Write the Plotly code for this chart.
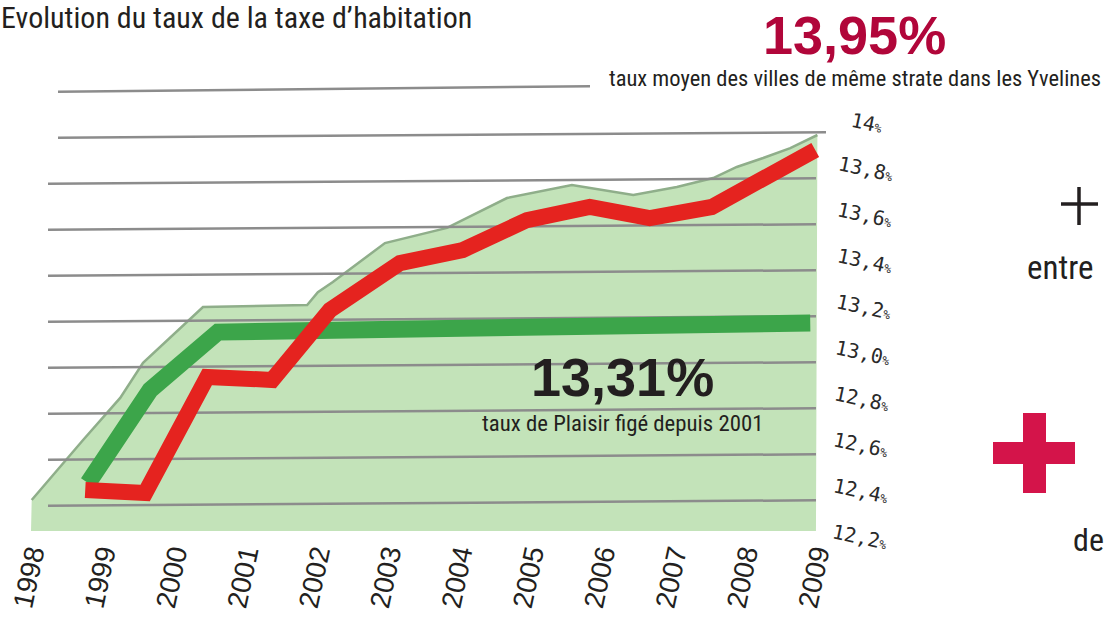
import plotly.graph_objects as go

W, H = 1105, 623
MB = 92  # bottom margin (room for rotated year labels)

# ---------------- data (axis units: years / percent) ----------------
years = [1998, 1999, 2000, 2001, 2002, 2003, 2004, 2005, 2006, 2007, 2008, 2009]
year_labels = [str(y) for y in years]

# light-green envelope (pseudo 3D backdrop)
area_x = [1998.00, 1998.01, 1998.73, 1999.25, 1999.57, 2000.41, 2001.87, 2002.02,
          2002.23, 2002.96, 2003.83, 2004.67, 2005.58, 2006.44, 2007.05, 2007.56,
          2007.89, 2008.26, 2008.64, 2009.02, 2009.00]
area_y = [12.274, 12.413, 12.674, 12.857, 13.009, 13.252, 13.261, 13.317,
          13.361, 13.530, 13.596, 13.726, 13.783, 13.739, 13.774, 13.813,
          13.861, 13.900, 13.943, 14.000, 12.274]

# average rate of towns of same size (red)
red_x = [1998.76, 1999.60, 2000.47, 2001.38, 2002.19, 2003.17, 2004.05,
         2004.95, 2005.83, 2006.67, 2007.54, 2008.24, 2008.99]
red_y = [12.457, 12.443, 12.948, 12.935, 13.239, 13.443, 13.500,
         13.630, 13.687, 13.639, 13.687, 13.804, 13.935]

# Plaisir rate (green)
green_x = [1998.80, 1999.67, 2000.62, 2008.92]
green_y = [12.487, 12.891, 13.143, 13.183]

# y ticks
tick_vals = [14.0, 13.8, 13.6, 13.4, 13.2, 13.0, 12.8, 12.6, 12.4, 12.2]
tick_text = ["14", "13,8", "13,6", "13,4", "13,2", "13,0", "12,8", "12,6", "12,4", "12,2"]
grid_vals = [14.2, 14.0, 13.8, 13.6, 13.4, 13.2, 13.0, 12.8, 12.6, 12.4]

# ---------------- scales ----------------
PX_PER_YEAR = 71.36
X0_PX = 31.0
PX_PER_UNIT = 230.0
Y14_PX = 135.0
plot_h = H - MB
x_range = [1998 - X0_PX / PX_PER_YEAR, 1998 + (W - X0_PX) / PX_PER_YEAR]
y_top = 14 + Y14_PX / PX_PER_UNIT
y_range = [y_top - plot_h / PX_PER_UNIT, y_top]


def px_x(p):
    return 1998 + (p - X0_PX) / PX_PER_YEAR


def paper_x(p):
    return p / W


def paper_y(p):
    return (plot_h - p) / plot_h


def val_to_paper_y(v):
    return (v - y_range[0]) / (y_range[1] - y_range[0])


fig = go.Figure()

# envelope fill
fig.add_trace(go.Scatter(x=area_x, y=area_y, mode="lines", fill="toself",
                         fillcolor="#c3e3b9", line=dict(width=0),
                         hoverinfo="skip", showlegend=False))
# envelope top outline
fig.add_trace(go.Scatter(x=area_x[1:-1], y=area_y[1:-1], mode="lines",
                         line=dict(color="#8fae8a", width=2.5),
                         hoverinfo="skip", showlegend=False))

# grid lines (slightly tilted like the picture)
gx, gy = [], []
for v in grid_vals:
    if v > 14.1:
        x0, x1 = px_x(58), px_x(590)
    elif v > 13.9:
        x0, x1 = px_x(58), px_x(826)
    else:
        x0, x1 = px_x(48), px_x(816)
    gx += [x0, x1, None]
    gy += [v - 0.012, v + 0.012, None]
fig.add_trace(go.Scatter(x=gx, y=gy, mode="lines",
                         line=dict(color="#8c8c8c", width=2.5),
                         hoverinfo="skip", showlegend=False))

fig.add_trace(go.Scatter(x=green_x, y=green_y, mode="lines",
                         line=dict(color="#3ca54a", width=17),
                         hoverinfo="skip", showlegend=False))
fig.add_trace(go.Scatter(x=red_x, y=red_y, mode="lines",
                         line=dict(color="#e5231f", width=16),
                         hoverinfo="skip", showlegend=False))

ann = []
# right-hand y tick labels (tilted, hand-drawn look)
for i, (v, t) in enumerate(zip(tick_vals, tick_text)):
    cx = 867 - i * 0.8
    ann.append(dict(x=paper_x(cx), y=val_to_paper_y(v + 12 / PX_PER_UNIT),
                    xref="paper", yref="paper", xanchor="center", yanchor="middle",
                    text=t + "<span style='font-size:12px'>%</span>",
                    showarrow=False, textangle=12,
                    font=dict(family="DejaVu Sans Mono", size=20, color="#2a2a2a")))

narrow = "Liberation Sans Narrow, Roboto Condensed, DejaVu Sans Condensed, sans-serif"
dark = "#231f20"
ann += [
    dict(x=paper_x(-1), y=paper_y(17), xref="paper", yref="paper", xanchor="left",
         yanchor="middle", showarrow=False,
         text="Evolution du taux de la taxe d’habitation",
         font=dict(family=narrow, size=30, color=dark)),
    dict(x=paper_x(854), y=paper_y(35), xref="paper", yref="paper", xanchor="center",
         yanchor="middle", showarrow=False, text="<b>13,95%</b>",
         font=dict(family="Liberation Sans", size=54, color="#b1063a")),
    dict(x=paper_x(1103), y=paper_y(78), xref="paper", yref="paper", xanchor="right",
         yanchor="middle", showarrow=False,
         text="taux moyen des villes de même strate dans les Yvelines",
         font=dict(family=narrow, size=22.5, color=dark)),
    dict(x=paper_x(622), y=paper_y(377), xref="paper", yref="paper", xanchor="center",
         yanchor="middle", showarrow=False, text="<b>13,31%</b>",
         font=dict(family="Liberation Sans", size=54, color=dark)),
    dict(x=paper_x(622), y=paper_y(423), xref="paper", yref="paper", xanchor="center",
         yanchor="middle", showarrow=False, text="taux de Plaisir figé depuis 2001",
         font=dict(family=narrow, size=22.8, color=dark)),
    dict(x=paper_x(1025), y=paper_y(268), xref="paper", yref="paper", xanchor="left",
         yanchor="middle", showarrow=False, text="entre",
         font=dict(family=narrow, size=33, color=dark)),
    dict(x=paper_x(1071), y=paper_y(540), xref="paper", yref="paper", xanchor="left",
         yanchor="middle", showarrow=False, text="de",
         font=dict(family=narrow, size=32, color=dark)),
]

shapes = [
    # thin black plus
    dict(type="line", xref="paper", yref="paper", x0=paper_x(1079), x1=paper_x(1079),
         y0=paper_y(187), y1=paper_y(225), line=dict(color=dark, width=3.5)),
    dict(type="line", xref="paper", yref="paper", x0=paper_x(1061), x1=paper_x(1098),
         y0=paper_y(204), y1=paper_y(204), line=dict(color=dark, width=3.5)),
    # red cross
    dict(type="rect", xref="paper", yref="paper", x0=paper_x(1023), x1=paper_x(1046),
         y0=paper_y(413), y1=paper_y(493), fillcolor="#d4144a", line=dict(width=0)),
    dict(type="rect", xref="paper", yref="paper", x0=paper_x(993), x1=paper_x(1075),
         y0=paper_y(442), y1=paper_y(464), fillcolor="#d4144a", line=dict(width=0)),
]

fig.update_layout(
    width=W, height=H,
    margin=dict(l=0, r=0, t=0, b=MB, autoexpand=False),
    paper_bgcolor="white", plot_bgcolor="white",
    showlegend=False,
    annotations=ann, shapes=shapes,
    xaxis=dict(range=x_range, tickmode="array", tickvals=years, ticktext=year_labels,
               tickangle=-78, showgrid=False, zeroline=False, showline=False,
               ticks="", tickfont=dict(family="Liberation Sans", size=28, color=dark),
               automargin=False, fixedrange=True),
    yaxis=dict(range=y_range, showgrid=False, zeroline=False, showline=False,
               showticklabels=False, ticks="", automargin=False, fixedrange=True),
)

fig.write_html(
    "out.html",
    config={"displayModeBar": False},
    post_script="document.body.style.margin='0';document.body.style.overflow='hidden';",
)
